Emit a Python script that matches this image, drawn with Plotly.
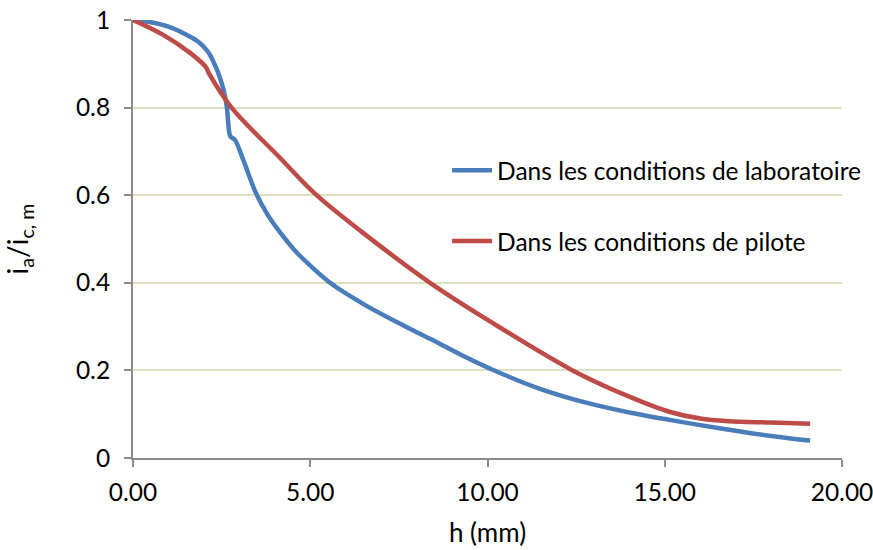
import plotly.graph_objects as go

# Blue curve: laboratory conditions
h_labo = [0.0, 0.5, 1.0, 1.52, 1.85, 2.12, 2.37, 2.54, 2.65, 2.74, 2.88, 3.1, 3.44, 3.8,
          4.15, 4.63, 5.56, 6.49, 7.45, 8.38, 9.22, 10.16, 11.48, 12.89, 14.0, 15.0, 16.0,
          17.0, 18.0, 18.6, 19.1]
i_labo = [1.0, 0.995, 0.985, 0.966, 0.95, 0.927, 0.886, 0.845, 0.80, 0.735, 0.726, 0.683,
          0.61, 0.555, 0.515, 0.468, 0.40, 0.352, 0.31, 0.272, 0.237, 0.201, 0.158, 0.124,
          0.104, 0.089, 0.075, 0.062, 0.05, 0.044, 0.04]

# Red curve: pilot conditions
h_pilote = [0.0, 0.85, 1.61, 2.05, 2.15, 2.78, 4.15, 5.18, 6.49, 8.38, 10.07, 12.4, 14.0,
            15.15, 16.0, 16.8, 18.0, 19.1]
i_pilote = [1.0, 0.966, 0.925, 0.893, 0.877, 0.80, 0.685, 0.60, 0.514, 0.40, 0.312, 0.20,
            0.14, 0.105, 0.09, 0.084, 0.081, 0.078]

FONT = "Lato"
BLUE = "#4a7ebb"
RED = "#be4b48"

fig = go.Figure()
fig.add_trace(go.Scatter(x=h_labo, y=i_labo, mode="lines", name="Dans les conditions de laboratoire",
                         line=dict(color=BLUE, width=4.5, shape="spline", smoothing=0.7),
                         legend="legend"))
fig.add_trace(go.Scatter(x=h_pilote, y=i_pilote, mode="lines", name="Dans les conditions de pilote",
                         line=dict(color=RED, width=4.5, shape="spline", smoothing=1.0),
                         legend="legend2"))

legend_style = dict(xanchor="left", yanchor="middle", bgcolor="rgba(0,0,0,0)",
                    font=dict(family=FONT, size=24.5, color="#000"), itemwidth=40)

fig.update_layout(
    width=873, height=550,
    # autoexpand off: the legend overhangs the plot area and would otherwise push the right margin
    margin=dict(l=133, r=31, t=20, b=92, autoexpand=False),
    paper_bgcolor="white", plot_bgcolor="white",
    showlegend=True,
    font=dict(family=FONT, size=24.5, color="#000"),
    legend=dict(x=0.443, y=0.657, **legend_style),
    legend2=dict(x=0.443, y=0.495, **legend_style),
    xaxis=dict(range=[0, 20], tickvals=[0, 5, 10, 15, 20],
               ticktext=["0.00", "5.00", "10.00", "15.00", "20.00"],
               showgrid=False, zeroline=False, showline=True, linecolor="#8c8c8c", linewidth=2,
               ticks="outside", ticklen=7, tickcolor="#8c8c8c", tickwidth=2, automargin=False,
               ticklabelstandoff=5, ticklabeloverflow="allow",
               title=dict(text="h (mm)", font=dict(size=26), standoff=18)),
    yaxis=dict(range=[0, 1], tickvals=[0, 0.2, 0.4, 0.6, 0.8, 1],
               ticktext=["0", "0.2", "0.4", "0.6", "0.8", "1"],
               showgrid=True, gridcolor="#d7e4bd", gridwidth=1.5, zeroline=False,
               showline=True, linecolor="#8c8c8c", linewidth=2,
               ticks="outside", ticklen=7, tickcolor="#8c8c8c", tickwidth=2, automargin=False,
               ticklabelstandoff=9, ticklabeloverflow="allow",
               title=dict(text="i<sub>a</sub>/i<sub>c, m</sub>", font=dict(size=28), standoff=40)),
)

# page body has a default 8px margin; drop it so the 873x550 figure fills the window
fig.write_html("out.html",
               config={"responsive": False, "displayModeBar": False},
               post_script="document.body.style.margin = '0'; document.body.style.overflow = 'hidden';")
